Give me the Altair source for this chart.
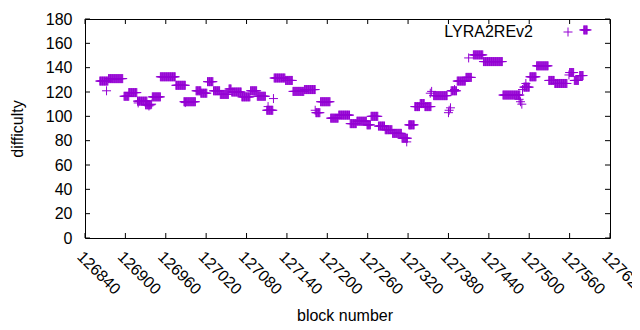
import altair as alt
import pandas as pd

# Runs of consecutive blocks with (nearly) the same difficulty
run_start = [126862, 126875, 126898, 126905, 126918, 126930, 126940, 126952, 126975, 126987,
             127005, 127012, 127022, 127031, 127041, 127054, 127058, 127073, 127086, 127096,
             127110, 127121, 127138, 127149, 127166, 127183, 127190, 127205, 127217, 127234,
             127244, 127259, 127265, 127276, 127286, 127297, 127311, 127321, 127330, 127338,
             127345, 127358, 127384, 127393, 127406, 127417, 127432, 127461, 127492, 127501,
             127511, 127529, 127538, 127560, 127567, 127575, 127581]
run_end = [126874, 126896, 126905, 126917, 126932, 126938, 126952, 126974, 126989, 127004,
           127012, 127021, 127030, 127040, 127053, 127057, 127072, 127085, 127095, 127108,
           127119, 127137, 127148, 127165, 127182, 127189, 127204, 127216, 127233, 127243,
           127258, 127264, 127275, 127285, 127296, 127310, 127319, 127329, 127337, 127344,
           127354, 127378, 127392, 127405, 127414, 127431, 127460, 127486, 127500, 127510,
           127528, 127537, 127556, 127566, 127573, 127580, 127586]
run_value = [129, 131, 116.5, 119.5, 112.5, 109.5, 116, 132.5, 125.5, 112,
             121, 119, 128.5, 121, 118, 122.5, 120, 116, 121, 116.5,
             105, 131.5, 129.5, 120.5, 122, 103, 112, 98.5, 101, 94,
             96, 93, 100, 92, 89, 86, 82, 93, 108, 110.5,
             108, 117, 121, 129, 132, 150.5, 145, 117.5, 124, 132.5,
             141.5, 129.5, 127, 136, 129.5, 133.5, 171]

# Isolated blocks
single_block = [126872, 126919, 126935, 126939, 126989, 127112, 127120, 127182, 127318,
                127323, 127353, 127355, 127380, 127381, 127383, 127389, 127410, 127485,
                127487, 127489, 127490, 127495, 127559]
single_value = [121, 111, 108.5, 110, 111.3, 108, 114.6, 105, 79,
                93, 119, 120.5, 103, 105, 107, 122, 148, 114,
                112, 110, 122, 127, 134]

x_ticks = list(range(126840, 127621, 60))
y_ticks = list(range(0, 181, 20))

rows = []
for s, e, v in zip(run_start, run_end, run_value):
    for b in range(s, e + 1):
        rows.append({"block": b, "difficulty": v})
for b, v in zip(single_block, single_value):
    rows.append({"block": b, "difficulty": v})
df = pd.DataFrame(rows)

W, H = 525, 219
PURPLE = "#9400D3"
FONT = "Liberation Sans"
FS = 16
PLUS = "M-1,0H1M0,-1V1"
TL = 5

xscale = alt.Scale(domain=[126840, 127620], nice=False, zero=False)
yscale = alt.Scale(domain=[0, 180], nice=False, zero=True)

xaxis = alt.Axis(values=x_ticks, format="d", ticks=False, tickSize=0, domain=False, grid=False,
                 labelAngle=45, labelAlign="left", labelBaseline="top", labelPadding=10,
                 labelFont=FONT, labelFontSize=FS, labelColor="black", labelFlush=False,
                 labelOverlap=False, title="block number", titleFont=FONT, titleFontSize=FS,
                 titleFontWeight="normal", titleColor="black", titleBaseline="middle",
                 titleY=77, titleX=W / 2 - 3)
yaxis = alt.Axis(values=y_ticks, ticks=False, tickSize=0, domain=False, grid=False,
                 labelPadding=13, labelFont=FONT, labelFontSize=FS, labelColor="black",
                 labelFlush=False, labelOverlap=False, title="difficulty", titleFont=FONT,
                 titleFontSize=FS, titleFontWeight="normal", titleColor="black",
                 titleX=-68, titleY=H / 2, titleBaseline="middle", titleAlign="center",
                 titleAngle=270)

points = alt.Chart(df).mark_point(shape=PLUS, size=81, filled=False, strokeWidth=1,
                                  color=PURPLE, opacity=1).encode(
    x=alt.X("block:Q", scale=xscale, axis=xaxis),
    y=alt.Y("difficulty:Q", scale=yscale, axis=yaxis),
)

xt = pd.DataFrame({"t": x_ticks})
yt = pd.DataFrame({"t": y_ticks})

xtick_bottom = alt.Chart(xt).mark_rule(color="black", strokeWidth=1).encode(
    x=alt.X("t:Q", scale=xscale, axis=xaxis), y=alt.value(H - TL), y2=alt.value(H))
xtick_top = alt.Chart(xt).mark_rule(color="black", strokeWidth=1).encode(
    x=alt.X("t:Q", scale=xscale, axis=xaxis), y=alt.value(0), y2=alt.value(TL))
ytick_left = alt.Chart(yt).mark_rule(color="black", strokeWidth=1).encode(
    y=alt.Y("t:Q", scale=yscale, axis=yaxis), x=alt.value(0), x2=alt.value(TL))
ytick_right = alt.Chart(yt).mark_rule(color="black", strokeWidth=1).encode(
    y=alt.Y("t:Q", scale=yscale, axis=yaxis), x=alt.value(W - TL), x2=alt.value(W))

leg = pd.DataFrame({"label": ["LYRA2REv2"]})
legend_text = alt.Chart(leg).mark_text(align="right", baseline="middle", font=FONT,
                                       fontSize=FS, color="black").encode(
    text="label:N", x=alt.value(448), y=alt.value(13))
legend_mark = alt.Chart(leg).mark_point(shape=PLUS, size=81, filled=False, strokeWidth=1,
                                        color=PURPLE, opacity=1).encode(
    x=alt.value(483), y=alt.value(13))

chart = alt.layer(points, xtick_bottom, xtick_top, ytick_left, ytick_right,
                  legend_text, legend_mark).properties(
    width=W, height=H,
    padding={"left": 77, "top": 11, "right": 22, "bottom": 84},
    autosize=alt.AutoSizeParams(type="none"),
    background="white",
).configure_view(stroke="black", strokeWidth=1)

chart.save("out.html", embed_options={"renderer": "svg", "actions": False})
